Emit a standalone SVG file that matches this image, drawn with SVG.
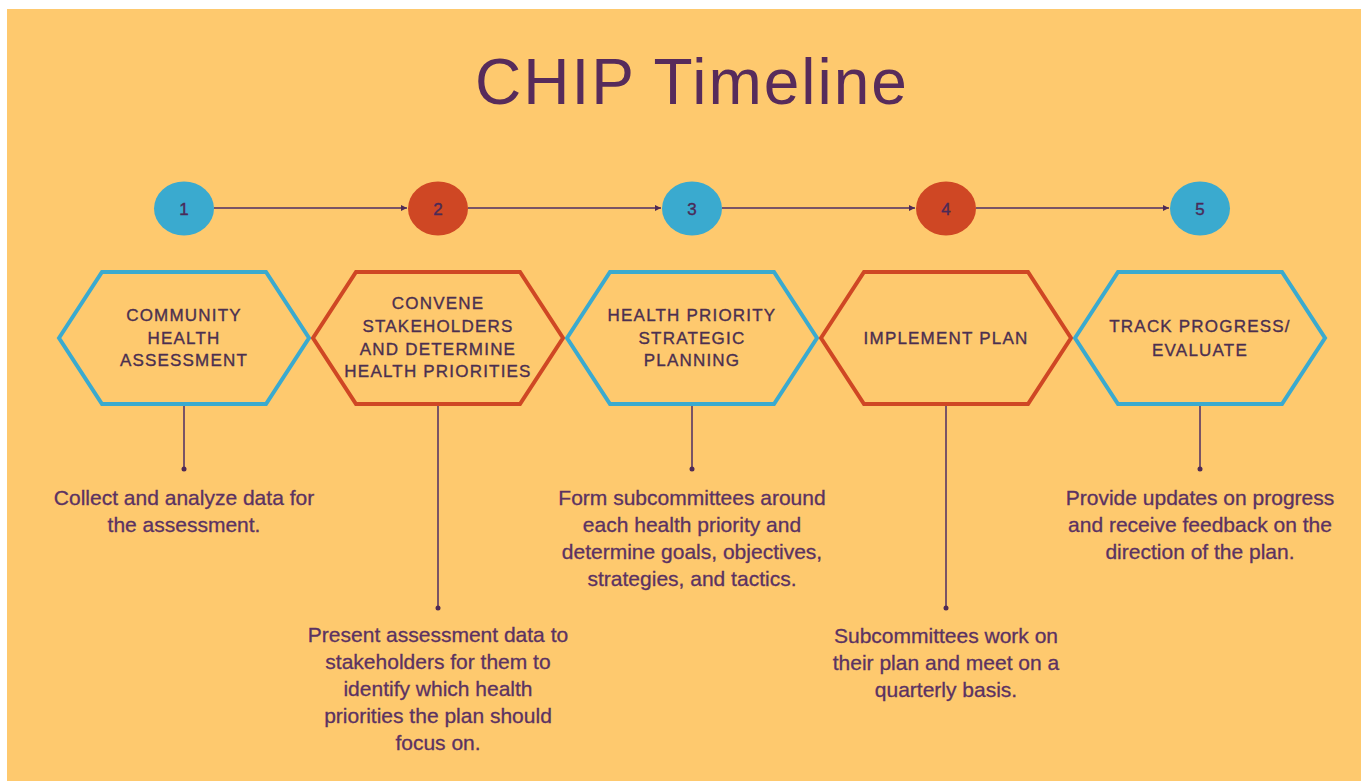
<svg xmlns="http://www.w3.org/2000/svg" width="1361" height="781" viewBox="0 0 1361 781">
<defs>
<style>
.bg{fill:#FEC96E}
.hex{fill:none;stroke-width:4;stroke-linejoin:miter}
.blue{stroke:#3AAACF}
.red{stroke:#CF4724}
.cb{fill:#3AAACF}
.cr{fill:#CF4724}
.num{font-family:"Liberation Sans",Arial,sans-serif;font-size:17px;fill:#4A2A58;stroke:#4A2A58;stroke-width:0.4px;text-anchor:middle}
.ht{font-family:"Liberation Sans",Arial,sans-serif;font-size:17px;letter-spacing:1.2px;fill:#4B2F50;stroke:#4B2F50;stroke-width:0.35px;text-anchor:middle}
.dt{font-family:"Liberation Sans",Arial,sans-serif;font-size:21px;fill:#5B3262;stroke:#5B3262;stroke-width:0.3px;text-anchor:middle}
.title{font-family:"Liberation Sans",Arial,sans-serif;font-size:64px;letter-spacing:2px;fill:#572B5B;text-anchor:middle}
.conn{stroke:#7A5466;stroke-width:2;fill:none}
.dot{fill:#4F2A55}
</style>
<marker id="arr" viewBox="0 0 6 6" refX="6" refY="3" markerWidth="6" markerHeight="6" markerUnits="userSpaceOnUse" orient="auto">
<path d="M0,0 L6,3 L0,6 Z" fill="#4F2A55"/>
</marker>
<polygon id="hexshape" points="-125,0 -82,-66 82,-66 125,0 82,66 -82,66"/>
</defs>
<rect class="bg" x="7" y="9" width="1354" height="772"/>
<text class="title" x="692" y="104">CHIP Timeline</text>

<g id="connectors">
<line class="conn" x1="214" y1="208" x2="407" y2="208" marker-end="url(#arr)"/>
<line class="conn" x1="468" y1="208" x2="661" y2="208" marker-end="url(#arr)"/>
<line class="conn" x1="722" y1="208" x2="915" y2="208" marker-end="url(#arr)"/>
<line class="conn" x1="976" y1="208" x2="1169" y2="208" marker-end="url(#arr)"/>
<line class="conn" x1="184" y1="406" x2="184" y2="469"/>
<circle class="dot" cx="184" cy="469" r="2.5"/>
<line class="conn" x1="438" y1="406" x2="438" y2="608"/>
<circle class="dot" cx="438" cy="608" r="2.5"/>
<line class="conn" x1="692" y1="406" x2="692" y2="469"/>
<circle class="dot" cx="692" cy="469" r="2.5"/>
<line class="conn" x1="946" y1="406" x2="946" y2="608"/>
<circle class="dot" cx="946" cy="608" r="2.5"/>
<line class="conn" x1="1200" y1="406" x2="1200" y2="469"/>
<circle class="dot" cx="1200" cy="469" r="2.5"/>
</g>

<g id="step1">
<ellipse class="cb" cx="184" cy="208.5" rx="30" ry="27"/>
<text class="num" x="184" y="214.5">1</text>
<use href="#hexshape" class="hex blue" x="184" y="338"/>
<text class="ht" x="184" y="321">COMMUNITY</text>
<text class="ht" x="184" y="343.5">HEALTH</text>
<text class="ht" x="184" y="366">ASSESSMENT</text>
<text class="dt" x="184" y="505">Collect and analyze data for</text>
<text class="dt" x="184" y="532">the assessment.</text>
</g>

<g id="step2">
<ellipse class="cr" cx="438" cy="208.5" rx="30" ry="27"/>
<text class="num" x="438" y="214.5">2</text>
<use href="#hexshape" class="hex red" x="438" y="338"/>
<text class="ht" x="438" y="309">CONVENE</text>
<text class="ht" x="438" y="332">STAKEHOLDERS</text>
<text class="ht" x="438" y="355">AND DETERMINE</text>
<text class="ht" x="438" y="377">HEALTH PRIORITIES</text>
<text class="dt" x="438" y="642">Present assessment data to</text>
<text class="dt" x="438" y="669">stakeholders for them to</text>
<text class="dt" x="438" y="696">identify which health</text>
<text class="dt" x="438" y="723">priorities the plan should</text>
<text class="dt" x="438" y="750">focus on.</text>
</g>

<g id="step3">
<ellipse class="cb" cx="692" cy="208.5" rx="30" ry="27"/>
<text class="num" x="692" y="214.5">3</text>
<use href="#hexshape" class="hex blue" x="692" y="338"/>
<text class="ht" x="692" y="321">HEALTH PRIORITY</text>
<text class="ht" x="692" y="344">STRATEGIC</text>
<text class="ht" x="692" y="366">PLANNING</text>
<text class="dt" x="692" y="505">Form subcommittees around</text>
<text class="dt" x="692" y="532">each health priority and</text>
<text class="dt" x="692" y="559">determine goals, objectives,</text>
<text class="dt" x="692" y="586">strategies, and tactics.</text>
</g>

<g id="step4">
<ellipse class="cr" cx="946" cy="208.5" rx="30" ry="27"/>
<text class="num" x="946" y="214.5">4</text>
<use href="#hexshape" class="hex red" x="946" y="338"/>
<text class="ht" x="946" y="344">IMPLEMENT PLAN</text>
<text class="dt" x="946" y="643">Subcommittees work on</text>
<text class="dt" x="946" y="670">their plan and meet on a</text>
<text class="dt" x="946" y="697">quarterly basis.</text>
</g>

<g id="step5">
<ellipse class="cb" cx="1200" cy="208.5" rx="30" ry="27"/>
<text class="num" x="1200" y="214.5">5</text>
<use href="#hexshape" class="hex blue" x="1200" y="338"/>
<text class="ht" x="1200" y="332">TRACK PROGRESS/</text>
<text class="ht" x="1200" y="356">EVALUATE</text>
<text class="dt" x="1200" y="505">Provide updates on progress</text>
<text class="dt" x="1200" y="532">and receive feedback on the</text>
<text class="dt" x="1200" y="559">direction of the plan.</text>
</g>
</svg>
